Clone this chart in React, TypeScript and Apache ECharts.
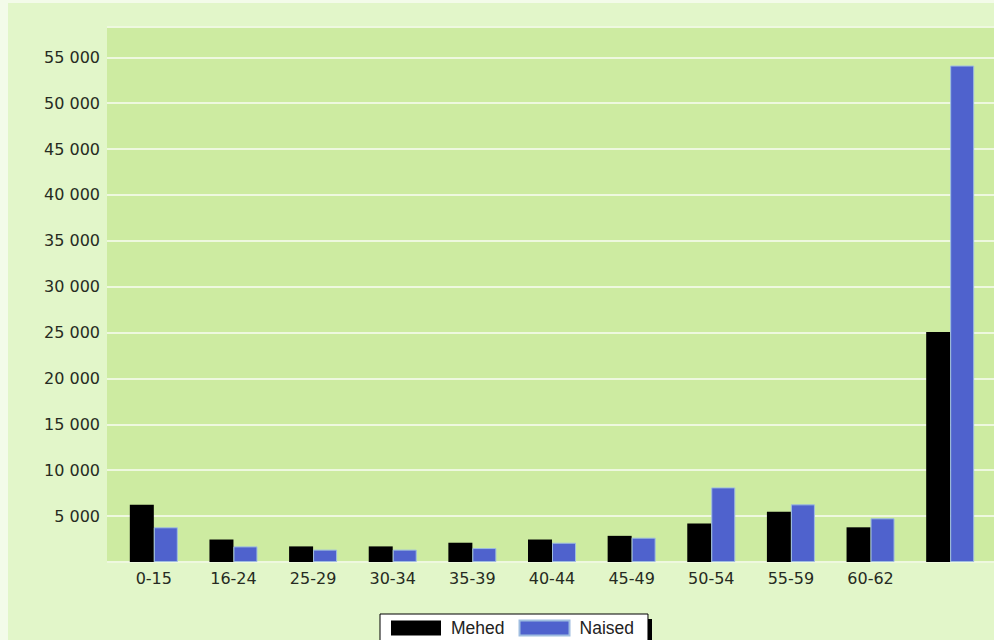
import React, { useEffect, useRef } from "react";
import * as echarts from "echarts";

const categories = ["0-15", "16-24", "25-29", "30-34", "35-39", "40-44", "45-49", "50-54", "55-59", "60-62", ""];
const mehed = [6250, 2450, 1700, 1700, 2100, 2450, 2850, 4200, 5480, 3780, 25050];
const naised = [3780, 1700, 1350, 1350, 1520, 2100, 2650, 8130, 6280, 4760, 54100];
const seriesNames = ["Mehed", "Naised"];
const yMin = 0;
const yMax = 58300;
const yInterval = 5000;

const fmt = (v: number) => String(v).replace(/\B(?=(\d{3})+(?!\d))/g, " ");

export default function App() {
  const ref = useRef<HTMLDivElement>(null);
  useEffect(() => {
    if (!ref.current) return;
    const chart = echarts.init(ref.current, undefined, { renderer: "svg" });
    chart.setOption({
      animation: false,
      backgroundColor: "#f3fbe9",
      graphic: [
        { type: "rect", z: -10, silent: true, shape: { x: 8, y: 3, width: 994, height: 640 }, style: { fill: "#e2f6c9" } },
        { type: "rect", z: 0, silent: true, shape: { x: 385, y: 619, width: 267, height: 40 }, style: { fill: "#000" } },
      ],
      grid: [
        { left: 107, right: 0, top: 27, bottom: 78, show: true, backgroundColor: "#cdeba1", borderWidth: 0 },
        { left: 114, right: 4, top: 27, bottom: 78 },
      ],
      xAxis: [
        { gridIndex: 0, type: "value", min: 0, max: 1, show: false },
        {
          gridIndex: 1,
          type: "category",
          data: categories,
          axisLine: { show: false },
          axisTick: { show: false },
          axisLabel: { fontFamily: "DejaVu Sans", fontSize: 16, color: "#262b22", margin: 8 },
        },
      ],
      yAxis: [
        {
          gridIndex: 0,
          type: "value",
          min: yMin,
          max: yMax,
          interval: yInterval,
          axisLine: { show: false },
          axisTick: { show: false },
          axisLabel: {
            fontFamily: "DejaVu Sans",
            fontSize: 16,
            color: "#262b22",
            margin: 7,
            showMinLabel: false,
            showMaxLabel: false,
            formatter: (v: number) => (v === 0 || v > 55000 ? "" : fmt(v)),
          },
          splitLine: { lineStyle: { color: "#eef8df", width: 2 } },
        },
        { gridIndex: 1, type: "value", min: yMin, max: yMax, interval: yInterval, show: false, splitLine: { show: false } },
      ],
      legend: {
        left: 380,
        top: 614,
        backgroundColor: "#ffffff",
        borderColor: "#000",
        borderWidth: 1,
        borderRadius: 0,
        padding: [5, 14, 10, 11],
        itemWidth: 50,
        itemHeight: 15,
        itemGap: 14,
        icon: "rect",
        textStyle: { fontFamily: "Liberation Sans", fontSize: 17.5, color: "#222", padding: [0, 0, 0, 5] },
        data: seriesNames,
      },
      series: [
        {
          name: seriesNames[0],
          type: "bar",
          xAxisIndex: 1,
          yAxisIndex: 1,
          data: mehed,
          barWidth: 24,
          barGap: "0%",
          itemStyle: { color: "#000000" },
        },
        {
          name: seriesNames[1],
          type: "bar",
          xAxisIndex: 1,
          yAxisIndex: 1,
          data: naised,
          barWidth: 24,
          barGap: "0%",
          itemStyle: { color: "#4f62cd", borderColor: "#9fbde0", borderWidth: 1 },
        },
      ],
    });
    return () => chart.dispose();
  }, []);
  return <div ref={ref} style={{ position: "fixed", left: 0, top: 0, width: 994, height: 640 }} />;
}
